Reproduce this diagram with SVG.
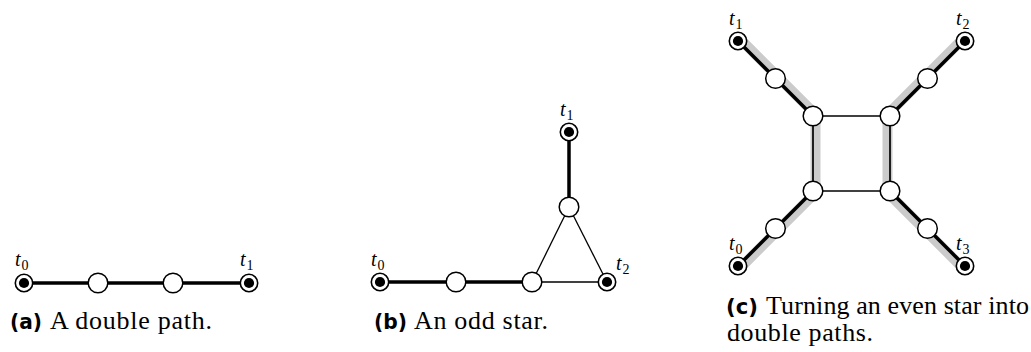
<svg xmlns="http://www.w3.org/2000/svg" width="1031" height="352" viewBox="0 0 1031 352">
<style>
.thick{stroke:#000;stroke-width:3.5;fill:none;stroke-linecap:butt}
.thin{stroke:#000;stroke-width:1.3;fill:none}
.mid{stroke:#000;stroke-width:1.7;fill:none}
.hl{stroke:#cbcbcb;stroke-width:10;fill:none;stroke-linejoin:miter}
.v{fill:#fff;stroke:#000;stroke-width:1.5}
.to{fill:#fff;stroke:#000;stroke-width:1.6}
.ti{fill:#000}
.lab{font-family:'Liberation Serif','Times New Roman','DejaVu Serif',serif;font-style:italic;font-size:20px;fill:#000}
.sub{font-style:normal;font-size:14px}
.cap{font-family:'Liberation Serif','Times New Roman','DejaVu Serif',serif;font-size:26px;fill:#000}
.capb{font-family:'DejaVu Sans',sans-serif;font-weight:bold;font-size:22px;fill:#000}
</style>
<defs>
<g id="term"><circle r="8.7" class="to"/><circle r="5.1" class="ti"/></g>
<circle id="vert" r="9.8" class="v"/>
</defs>

<g id="connectors">
<!-- (a) -->
<line x1="24" y1="283" x2="249" y2="283" class="thick"/>
<!-- (b) -->
<line x1="380" y1="282" x2="532" y2="282" class="thick"/>
<line x1="532" y1="282" x2="607" y2="282" class="thin"/>
<line x1="532" y1="282" x2="569" y2="207" class="thin"/>
<line x1="569" y1="207" x2="607" y2="282" class="thin"/>
<line x1="569" y1="207" x2="569" y2="132" class="thick"/>
<!-- (c) highlights -->
<polyline points="740.1,38.9 815.5,114.4 815.5,192.6 740.1,268.1" class="hl"/>
<polyline points="962.9,38.9 887.5,114.4 887.5,192.6 962.9,268.1" class="hl"/>
<!-- (c) edges -->
<polyline points="738,41 813,116" class="thick"/>
<polyline points="813,191 738,266" class="thick"/>
<polyline points="965,41 890,116" class="thick"/>
<polyline points="890,191 965,266" class="thick"/>
<line x1="813" y1="116" x2="813" y2="191" class="mid"/>
<line x1="890" y1="116" x2="890" y2="191" class="mid"/>
<line x1="813" y1="116" x2="890" y2="116" class="thin"/>
<line x1="813" y1="191" x2="890" y2="191" class="thin"/>
</g>

<!-- (a) nodes -->
<g id="a-t0"><use href="#term" x="24" y="283"/><text x="15" y="266" class="lab">t<tspan class="sub" dx="1" dy="4">0</tspan></text></g>
<g id="a-v1"><use href="#vert" x="98" y="283"/></g>
<g id="a-v2"><use href="#vert" x="173" y="283"/></g>
<g id="a-t1"><use href="#term" x="249" y="283"/><text x="240" y="266" class="lab">t<tspan class="sub" dx="1" dy="4">1</tspan></text></g>

<!-- (b) nodes -->
<g id="b-t0"><use href="#term" x="380" y="282"/><text x="371" y="266" class="lab">t<tspan class="sub" dx="1" dy="4">0</tspan></text></g>
<g id="b-v1"><use href="#vert" x="456" y="282"/></g>
<g id="b-v2"><use href="#vert" x="532" y="282"/></g>
<g id="b-v3"><use href="#vert" x="569" y="207"/></g>
<g id="b-t1"><use href="#term" x="569" y="132"/><text x="560" y="116" class="lab">t<tspan class="sub" dx="1" dy="4">1</tspan></text></g>
<g id="b-t2"><use href="#term" x="607" y="282"/><text x="616" y="270" class="lab">t<tspan class="sub" dx="1" dy="4">2</tspan></text></g>

<!-- (c) nodes -->
<g id="c-t1"><use href="#term" x="738" y="41"/><text x="729" y="25" class="lab">t<tspan class="sub" dx="1" dy="4">1</tspan></text></g>
<g id="c-u1"><use href="#vert" x="775.5" y="78.5"/></g>
<g id="c-s1"><use href="#vert" x="813" y="116"/></g>
<g id="c-t2"><use href="#term" x="965" y="41"/><text x="956" y="25" class="lab">t<tspan class="sub" dx="1" dy="4">2</tspan></text></g>
<g id="c-u2"><use href="#vert" x="927.5" y="78.5"/></g>
<g id="c-s2"><use href="#vert" x="890" y="116"/></g>
<g id="c-s0"><use href="#vert" x="813" y="191"/></g>
<g id="c-u0"><use href="#vert" x="775.5" y="228.5"/></g>
<g id="c-t0"><use href="#term" x="738" y="266"/><text x="729" y="250" class="lab">t<tspan class="sub" dx="1" dy="4">0</tspan></text></g>
<g id="c-s3"><use href="#vert" x="890" y="191"/></g>
<g id="c-u3"><use href="#vert" x="927.5" y="228.5"/></g>
<g id="c-t3"><use href="#term" x="965" y="266"/><text x="956" y="250" class="lab">t<tspan class="sub" dx="1" dy="4">3</tspan></text></g>

<!-- captions -->
<g id="captions">
<text x="10" y="329" class="capb" textLength="32" lengthAdjust="spacingAndGlyphs">(a)</text>
<text x="50" y="329" class="cap" textLength="162">A double path.</text>
<text x="374" y="329" class="capb" textLength="33" lengthAdjust="spacingAndGlyphs">(b)</text>
<text x="414" y="329" class="cap" textLength="134">An odd star.</text>
<text x="726" y="314" class="capb" textLength="32" lengthAdjust="spacingAndGlyphs">(c)</text>
<text x="766" y="314" class="cap" textLength="263">Turning an even star into</text>
<text x="727" y="341" class="cap" textLength="146">double paths.</text>
</g>
</svg>
